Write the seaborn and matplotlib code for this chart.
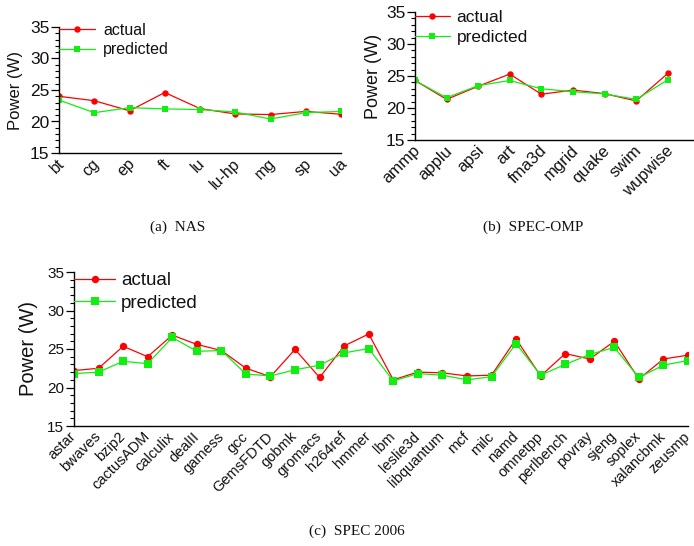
import matplotlib
matplotlib.use("Agg")
import matplotlib.pyplot as plt
from matplotlib.ticker import MultipleLocator
from matplotlib.transforms import ScaledTranslation
import seaborn as sns
import pandas as pd

sns.set_theme(style="white")
plt.rcParams['font.family'] = ['Liberation Sans', 'DejaVu Sans']

# ---------------- data ----------------
nas_bench = ["bt", "cg", "ep", "ft", "lu", "lu-hp", "mg", "sp", "ua"]
nas_actual = [24.0, 23.3, 21.7, 24.6, 22.05, 21.2, 21.1, 21.6, 21.15]
nas_pred = [23.4, 21.4, 22.2, 22.0, 21.9, 21.5, 20.4, 21.4, 21.6]

omp_bench = ["ammp", "applu", "apsi", "art", "fma3d", "mgrid", "quake", "swim", "wupwise"]
omp_actual = [24.3, 21.35, 23.4, 25.3, 22.15, 22.8, 22.25, 21.1, 25.4]
omp_pred = [24.3, 21.6, 23.5, 24.3, 23.0, 22.55, 22.2, 21.35, 24.4]

spec_bench = ["astar", "bwaves", "bzip2", "cactusADM", "calculix", "dealII", "gamess",
              "gcc", "GemsFDTD", "gobmk", "gromacs", "h264ref", "hmmer", "lbm",
              "leslie3d", "libquantum", "mcf", "milc", "namd", "omnetpp", "perlbench",
              "povray", "sjeng", "soplex", "xalancbmk", "zeusmp"]
spec_actual = [22.2, 22.5, 25.35, 24.0, 26.8, 25.6, 24.8, 22.5, 21.4, 24.95, 21.3, 25.4,
               26.95, 21.0, 22.0, 21.9, 21.5, 21.6, 26.3, 21.5, 24.4, 23.7, 26.0, 21.1,
               23.7, 24.2]
spec_pred = [21.8, 22.0, 23.4, 23.1, 26.5, 24.7, 24.8, 21.75, 21.5, 22.3, 22.9, 24.5,
             25.05, 20.85, 21.8, 21.6, 21.0, 21.4, 25.7, 21.6, 23.0, 24.3, 25.2, 21.3,
             22.9, 23.5]

colors = {"actual": "#ff0000", "predicted": "#11ee11"}
markers = {"actual": "o", "predicted": "s"}

W, H = 694, 546
fig = plt.figure(figsize=(W / 100, H / 100), dpi=100)


def rect(left, top, right, bottom):
    return [left / W, 1 - bottom / H, (right - left) / W, (bottom - top) / H]


def panel(r, bench, actual, pred, xmax, tick_fs, xtick_fs, label_fs, labelpad,
          legend_fs, ms, leg_y, hl, htp, shift_px, caption, cap_xy):
    ax = fig.add_axes(rect(*r))
    df = pd.DataFrame({
        "x": list(range(len(bench))) * 2,
        "power": list(actual) + list(pred),
        "series": ["actual"] * len(bench) + ["predicted"] * len(bench),
    })
    sns.lineplot(data=df, x="x", y="power", hue="series", style="series",
                 palette=colors, markers=markers, dashes=False, sort=False,
                 markersize=ms, markeredgewidth=0, linewidth=0.9, ax=ax)
    ax.set_xlim(0, xmax)
    ax.set_ylim(15, 35)
    ax.yaxis.set_major_locator(MultipleLocator(5))
    ax.yaxis.set_minor_locator(MultipleLocator(1))
    ax.tick_params(axis="y", which="major", left=True, length=6, width=0.9,
                   labelsize=tick_fs, pad=1, color="black", labelcolor="#111111")
    ax.tick_params(axis="y", which="minor", left=True, length=3, width=0.8, color="black")
    ax.set_xticks(range(len(bench)))
    ax.set_xticklabels(bench, rotation=45, ha="right", va="center",
                       rotation_mode="anchor", fontsize=xtick_fs, color="#111111")
    ax.tick_params(axis="x", which="both", bottom=False, length=0, pad=6)
    if shift_px:
        shift = ScaledTranslation(shift_px / 100, 0, fig.dpi_scale_trans)
        for lbl in ax.get_xticklabels():
            lbl.set_transform(lbl.get_transform() + shift)
    for s in ["top", "right"]:
        ax.spines[s].set_visible(False)
    for s in ["left", "bottom"]:
        ax.spines[s].set_color("black")
        ax.spines[s].set_linewidth(1.0)
    ax.set_xlabel("")
    ax.set_ylabel("Power (W)", fontsize=label_fs, labelpad=labelpad, color="#111111")
    leg = ax.legend(loc="upper left", bbox_to_anchor=(0, leg_y), frameon=False,
                    borderaxespad=0, borderpad=0, handlelength=hl, handletextpad=htp,
                    labelspacing=0.3, fontsize=legend_fs)
    for t in leg.get_texts():
        t.set_color("#111111")
    for h in leg.legend_handles:
        h.set_markersize(ms)
        h.set_markeredgewidth(0)
    fig.text(cap_xy[0] / W, 1 - cap_xy[1] / H, caption, ha="center", va="center",
             fontsize=11, family=["Liberation Serif", "DejaVu Serif"], color="#111111")
    return ax


panel((59, 27, 341, 153), nas_bench, nas_actual, nas_pred, 8,
      12.5, 11.5, 12, 5, 11.5, 4.6, 1.035, 2.25, 0.5, 3, "(a)  NAS", (178, 227))
panel((415, 12, 693, 140), omp_bench, omp_actual, omp_pred, 8.8,
      12.5, 12, 13, 3, 12.5, 4.6, 1.02, 2.0, 0.4, 3, "(b)  SPEC-OMP", (533, 227))
panel((74, 272, 688, 426), spec_bench, spec_actual, spec_pred, 25,
      11, 10.5, 14.5, 7, 13.5, 5.3, 1.0, 2.2, 0.32, 0, "(c)  SPEC 2006", (357, 531))

fig.savefig("out.png", dpi=100)
